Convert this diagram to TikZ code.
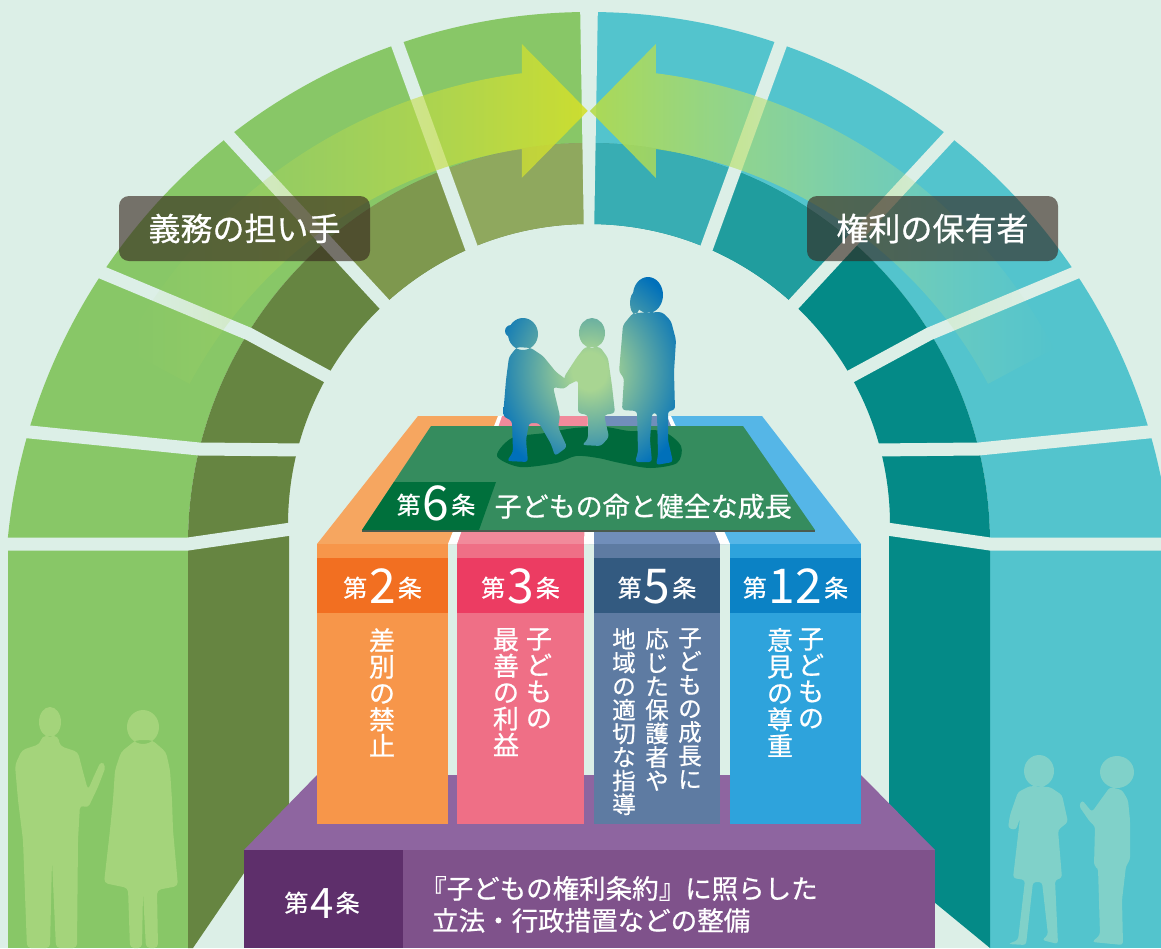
\documentclass[tikz,border=0pt]{standalone}
\usepackage{fontspec}
\setmainfont{Noto Sans CJK JP}[FakeBold=0.7]
\newfontfamily\numfont{Noto Sans CJK JP}
\usetikzlibrary{calc,fadings}

% palette
\definecolor{bgmint}{HTML}{DCEFE7}
\definecolor{grnFace}{HTML}{88C767}
\definecolor{grnA}{HTML}{8FA85E}
\definecolor{grnB}{HTML}{7E984E}
\definecolor{grnC}{HTML}{668541}
\definecolor{cyaFace}{HTML}{53C4CD}
\definecolor{cyaA}{HTML}{38ADB3}
\definecolor{cyaB}{HTML}{209D9E}
\definecolor{cyaC}{HTML}{048A87}
\definecolor{adultSil}{HTML}{A4D47B}
\definecolor{kidSil}{HTML}{80D1C9}
\definecolor{kidBlue}{HTML}{0070BA}
\definecolor{kidGlow}{HTML}{A8D592}
\definecolor{shadowGreen}{HTML}{006A3C}
\definecolor{matGreen}{HTML}{358C5E}
\definecolor{matBand}{HTML}{00703C}
\definecolor{matEdge}{HTML}{4A5B4F}
\definecolor{arrLtail}{HTML}{A9D86C}
\definecolor{arrLhead}{HTML}{D4E02A}
\definecolor{arrRhead}{HTML}{B6DC48}
\definecolor{arrRtail}{HTML}{B8E4A8}
\definecolor{lblDark}{HTML}{35241C}
\definecolor{orTop}{HTML}{F6A660}
\definecolor{orBody}{HTML}{F7964A}
\definecolor{orHead}{HTML}{F26F21}
\definecolor{pkTop}{HTML}{F18A9B}
\definecolor{pkBody}{HTML}{EF6F86}
\definecolor{pkHead}{HTML}{EC3C62}
\definecolor{slTop}{HTML}{718EBA}
\definecolor{slBody}{HTML}{5E7BA2}
\definecolor{slHead}{HTML}{335A80}
\definecolor{blTop}{HTML}{55B6E7}
\definecolor{blBody}{HTML}{2EA3DC}
\definecolor{blHead}{HTML}{0B82C5}
\definecolor{puTop}{HTML}{8E65A0}
\definecolor{puFront}{HTML}{7F528B}
\definecolor{puLabel}{HTML}{5E2F6B}

% arrow tails fade out
\tikzfading[name=fadeW, left color=transparent!100, middle color=transparent!45, right color=transparent!10]
\tikzfading[name=fadeE, left color=transparent!10, middle color=transparent!45, right color=transparent!100]

% glow behind the children
\pgfdeclareradialshading{kidglow}{\pgfpoint{0bp}{0bp}}{%
  color(0bp)=(kidGlow); color(5bp)=(kidGlow); color(30bp)=(kidBlue); color(50bp)=(kidBlue)}

% one half of the arch: front colour, inner shades for the top two stones and the rest
\newcommand\archhalf[4]{%
  \begin{scope}
    \clip (0,0) rectangle (589,545);
    \fill[#1, even odd rule] (589,596) circle[radius=584] (589,544) circle[radius=401];
    \fill[#4, even odd rule] (589,544) circle[radius=401] (589,525) circle[radius=301];
  \end{scope}
  \begin{scope}
    \clip (381,0) -- (589,0) -- (589,320) -- (497.5,320) -- cycle;
    \fill[#2, even odd rule] (589,544) circle[radius=401] (589,525) circle[radius=301];
  \end{scope}
  \begin{scope}
    \clip (103,0) -- (381,0) -- (497.5,320) -- (399,320) -- cycle;
    \fill[#3, even odd rule] (589,544) circle[radius=401] (589,525) circle[radius=301];
  \end{scope}}

% joints between the stones of one half
\newcommand\archgaps{%
  \draw[gapline] (390,24) -- (478,266);
  \draw[gapline] (213,119) -- (399,320);
  \draw[gapline] (84,265) -- (249,334) -- (345,386);
  \draw[gapline] (0,429) -- (199,449) -- (305,450);
  \draw[gapline] (0,544) -- (188,544) -- (305,527);}

% article number: small 第, large numeral, small 条
\newcommand\artno[2][48]{\raisebox{6pt}{\fontsize{24}{24}\selectfont 第}\kern2pt{\numfont\fontsize{#1}{#1}\selectfont #2}\kern2pt\raisebox{6pt}{\fontsize{24}{24}\selectfont 条}}

\begin{document}
\begin{tikzpicture}[x=1pt,y=-1pt,
  gapline/.style={draw=bgmint, line width=13pt, line join=miter},
  tate/.style={anchor=north, align=center, inner sep=0pt, text=white},
  hdr/.style={anchor=base, inner sep=0pt, text=white},
  lbl/.style={fill=lblDark, fill opacity=0.62, text opacity=1, text=white,
    rounded corners=10pt, minimum width=251pt, minimum height=65pt,
    inner sep=0pt, font=\fontsize{32}{32}\selectfont}]
\useasboundingbox (0,0) rectangle (1161,948);
\fill[bgmint] (0,0) rectangle (1161,948);
\coordinate (C) at (589,596);

% ---------- arch ----------
\archhalf{grnFace}{grnA}{grnB}{grnC}
\begin{scope}[xshift=1178pt, xscale=-1]
  \archhalf{cyaFace}{cyaA}{cyaB}{cyaC}
\end{scope}
% pillars
\fill[grnFace] (8,544) rectangle (188,948);
\fill[grnC] (188,544) -- (289,530) -- (289,807) -- (193,948) -- (188,948) -- cycle;
\fill[cyaFace] (990,544) rectangle (1161,948);
\fill[cyaC] (990,544) -- (889,530) -- (889,865) -- (990,948) -- cycle;
% joints
\archgaps
\begin{scope}[xshift=1178pt, xscale=-1]\archgaps\end{scope}
\fill[bgmint] (580,0) -- (598,0) -- (594,240) -- (584,240) -- cycle;

% ---------- people on the pillars ----------
\fill[adultSil, rounded corners=4pt]
  (42,736) -- (40,744) -- (22,750) -- (15,765) -- (18,800) -- (23,840) -- (27,948)
  -- (50,948) -- (52,860) -- (56,948) -- (77,948) -- (78,840) -- (80,805) -- (88,808)
  -- (98,787) -- (106,766) -- (101,761) -- (94,776) -- (88,790) -- (82,768) -- (78,752)
  -- (60,746) -- (58,736) -- cycle
  (50,722) ellipse[x radius=11, y radius=15];
\fill[adultSil, rounded corners=4pt]
  (136,740) -- (121,752) -- (115,770) -- (113,800) -- (110,830) -- (104,883) -- (128,888)
  -- (130,948) -- (142,948) -- (143,892) -- (146,948) -- (158,948) -- (157,890)
  -- (178,886) -- (173,830) -- (172,800) -- (170,770) -- (166,752) -- (152,740) -- cycle
  (143,727) ellipse[x radius=16, y radius=17];
\fill[kidSil, rounded corners=3pt]
  (1030,786) -- (1018,792) -- (1010,815) -- (1008,828) -- (1016,830) -- (1020,818)
  -- (1013,878) -- (1025,880) -- (1018,940) -- (1008,944) -- (1026,945) -- (1033,882)
  -- (1042,882) -- (1048,935) -- (1042,940) -- (1058,944) -- (1055,880) -- (1062,878)
  -- (1058,830) -- (1068,822) -- (1062,795) -- (1050,787) -- cycle
  (1039,771) ellipse[x radius=15, y radius=16];
\fill[kidSil, rounded corners=3pt]
  (1110,787) -- (1102,798) -- (1092,812) -- (1082,800) -- (1079,806) -- (1090,822)
  -- (1095,826) -- (1094,866) -- (1098,868) -- (1100,935) -- (1092,942) -- (1123,945)
  -- (1122,900) -- (1126,866) -- (1130,860) -- (1130,820) -- (1128,800) -- (1122,790) -- cycle
  (1117,772) ellipse[x radius=17, y radius=16];

% ---------- arrows ----------
\shade[left color=arrLtail, right color=arrLhead, path fading=fadeW]
  ($(C)+(-152:527)$) arc[start angle=-152, end angle=-97.3, radius=527]
  -- (522,44) -- (588,111) -- (522,178) -- (522,149)
  arc[start angle=-98.5, end angle=-152, radius=452] -- cycle;
\shade[left color=arrRhead, right color=arrRtail, path fading=fadeE]
  ($(C)+(-28:527)$) arc[start angle=-28, end angle=-82.7, radius=527]
  -- (656,44) -- (590,111) -- (656,178) -- (656,149)
  arc[start angle=-81.5, end angle=-28, radius=452] -- cycle;

\node[lbl] (duty) at (244.5,228.5) {義務の担い手};
\node[lbl] (rights) at (932.5,228.5) {権利の保有者};

% ---------- base platform ----------
\fill[puTop] (317,775) -- (861,775) -- (935,850) -- (244,850) -- cycle;
\fill[puFront] (244,850) rectangle (935,948);
\fill[puLabel] (244,850) rectangle (403,948);

% ---------- block: top face ----------
\fill[orTop] (418,416) -- (500,416) -- (452.5,544) -- (317,544) -- cycle;
\fill[pkTop] (500,416) -- (590,416) -- (589,544) -- (452.5,544) -- cycle;
\fill[slTop] (590,416) -- (669,416) -- (725,544) -- (589,544) -- cycle;
\fill[blTop] (669,416) -- (762,416) -- (861,544) -- (725,544) -- cycle;
\fill[white] (448,544) -- (457,544) -- (502,416) -- (498,416) -- cycle;
\fill[white] (584,544) -- (594,544) -- (592,416) -- (588,416) -- cycle;
\fill[white] (720,544) -- (730,544) -- (671,416) -- (667,416) -- cycle;
% mat
\fill[matGreen] (431,426) -- (743,426) -- (815,530) -- (362,530) -- cycle;
\draw[matEdge, line width=2.5pt] (362,531) -- (815,531);
\fill[matBand] (394,482) -- (496,482) -- (479,530) -- (362,530) -- cycle;

% ---------- block: columns ----------
\fill[orBody] (317,544) rectangle (448,824);
\fill[orHead] (317,558) rectangle (448,613);
\fill[pkBody] (457,544) rectangle (584,824);
\fill[pkHead] (457,558) rectangle (584,613);
\fill[slBody] (594,544) rectangle (720,824);
\fill[slHead] (594,558) rectangle (720,613);
\fill[blBody] (730,544) rectangle (861,824);
\fill[blHead] (730,558) rectangle (861,613);

% ---------- children on the mat ----------
\fill[shadowGreen] plot[smooth cycle] coordinates {(497,456) (512,438) (545,433) (575,428)
  (605,427) (630,431) (662,431) (681,446) (677,463) (650,468) (620,463) (598,458)
  (576,456) (556,463) (520,467)};
\shade[shading=kidglow, rounded corners=3pt]
  (517,347) -- (509,357) -- (506,380) -- (503,416) -- (512,421) -- (513,452) -- (507,461)
  -- (528,462) -- (526,440) -- (529,423) -- (539,423) -- (551,444) -- (555,456) -- (567,447)
  -- (558,427) -- (560,416) -- (553,387) -- (564,389) -- (571,383) -- (556,372) -- (543,356)
  -- (531,348) -- cycle
  (523,334) ellipse[x radius=15, y radius=16]
  (511,331) ellipse[x radius=6, y radius=6]
  (585,347) -- (577,357) -- (564,377) -- (566,386) -- (578,380) -- (578,413) -- (588,415)
  -- (588,439) -- (582,445) -- (601,446) -- (609,437) -- (604,415) -- (615,413) -- (612,386)
  -- (608,358) -- (600,347) -- cycle
  (592,333) ellipse[x radius=13, y radius=15]
  (633,313) -- (623,325) -- (619,372) -- (624,378) -- (622,410) -- (637,411) -- (638,452)
  -- (635,462) -- (652,462) -- (650,440) -- (652,413) -- (657,413) -- (658,455) -- (656,465)
  -- (673,462) -- (668,440) -- (668,411) -- (675,410) -- (674,372) -- (676,340) -- (671,321)
  -- (662,312) -- cycle
  (648,295) ellipse[x radius=15, y radius=18]
  (635,303) ellipse[x radius=5, y radius=11];

% ---------- texts ----------
\node[hdr] (a6) at (436,520) {\artno{6}};
\node[anchor=base west, inner sep=0pt, text=white, font=\fontsize{27}{27}\selectfont]
  (a6t) at (494.5,516.5) {子どもの命と健全な成長};

\node[hdr] (a2) at (382.5,603) {\artno{2}};
\node[hdr] (a3) at (520.5,603) {\artno{3}};
\node[hdr] (a5) at (657,603) {\artno{5}};
\node[hdr] (a12) at (795.5,603) {\artno{12}};

\node[tate, font=\fontsize{26}{26.4}\selectfont] (a2t) at (382,628) {差\\別\\の\\禁\\止};
\node[tate, font=\fontsize{26}{26.4}\selectfont] (a3r) at (539,628) {子\\ど\\も\\の};
\node[tate, font=\fontsize{26}{26.4}\selectfont] (a3l) at (506,628) {最\\善\\の\\利\\益};
\node[tate, font=\fontsize{23.5}{23.6}\selectfont] (a5r) at (690,628) {子\\ど\\も\\の\\成\\長\\に};
\node[tate, font=\fontsize{23.5}{23.6}\selectfont] (a5m) at (657,628) {応\\じ\\た\\保\\護\\者\\や};
\node[tate, font=\fontsize{23.5}{23.6}\selectfont] (a5l) at (624,628) {地\\域\\の\\適\\切\\な\\指\\導};
\node[tate, font=\fontsize{26}{26.4}\selectfont] (a12r) at (811,628) {子\\ど\\も\\の};
\node[tate, font=\fontsize{26}{26.4}\selectfont] (a12l) at (780,628) {意\\見\\の\\尊\\重};

\node[hdr] (a4) at (322,918) {\artno[42]{4}};
\node[anchor=base west, inner sep=0pt, text=white, font=\fontsize{26.5}{26.5}\selectfont]
  (a4a) at (420,898.5) {『子どもの権利条約』に照らした};
\node[anchor=base west, inner sep=0pt, text=white, font=\fontsize{26.5}{26.5}\selectfont]
  (a4b) at (432,930.5) {立法・行政措置などの整備};
\end{tikzpicture}
\end{document}
